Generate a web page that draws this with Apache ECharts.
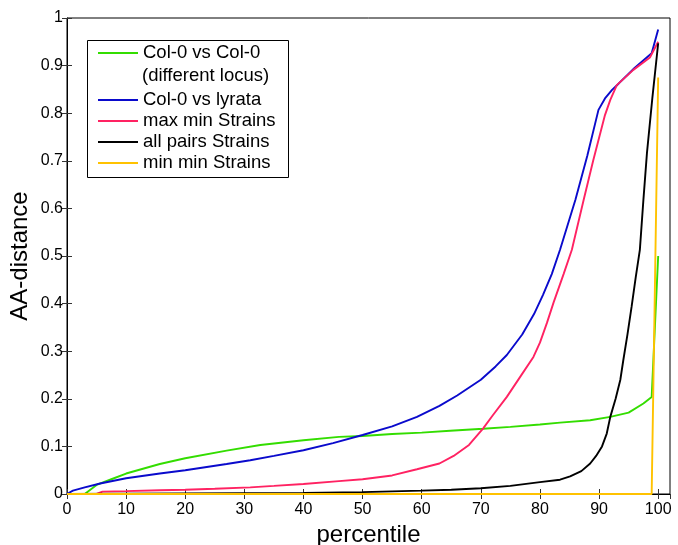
<!DOCTYPE html>
<html>
<head>
<meta charset="utf-8">
<script src="https://cdn.jsdelivr.net/npm/echarts@6/dist/echarts.min.js"></script>
<style>
  html, body { margin: 0; padding: 0; background: #fff; }
  #main { width: 678px; height: 545px; }
</style>
</head>
<body>
<div id="main"></div>
<script>
// percentile / AA-distance pairs
const colVsCol = [[0, 0], [3, 0], [5, 0.019], [7.5, 0.031], [10, 0.043], [15.7, 0.063], [20, 0.075], [27, 0.091],
    [32.7, 0.103], [40, 0.113], [46, 0.12], [50, 0.122], [55, 0.126], [60, 0.129], [64.8, 0.133], [70.4, 0.137],
    [75, 0.141], [80, 0.146], [83.4, 0.15], [88.5, 0.155], [91.9, 0.162], [95, 0.171], [97.5, 0.19], [98.9, 0.204], [100, 0.5]];
const colVsLyrata = [[0, 0], [1, 0.007], [3, 0.014], [5.6, 0.022], [10, 0.033], [15.7, 0.043], [20, 0.05], [27, 0.063],
    [31, 0.071], [35, 0.08], [40, 0.092], [45, 0.107], [50, 0.124], [55, 0.142], [59.2, 0.162], [63, 0.185], [66, 0.207],
    [70, 0.24], [72.5, 0.268], [74.4, 0.292], [77, 0.335], [79, 0.378], [80.5, 0.418], [82, 0.462], [83.4, 0.513],
    [86, 0.618], [88, 0.71], [89.9, 0.807], [91, 0.831], [92.2, 0.849], [93.3, 0.862], [96, 0.895], [98.9, 0.926], [100, 0.976]];
const maxMin = [[0, 0], [5, 0], [6, 0.005], [10, 0.006], [15.7, 0.008], [20, 0.009], [25, 0.011], [31, 0.014],
    [35, 0.017], [40, 0.021], [46, 0.027], [50, 0.031], [55, 0.039], [59.2, 0.052], [63, 0.064], [65.4, 0.08],
    [68, 0.103], [70.4, 0.138], [72, 0.165], [74.4, 0.204], [76.6, 0.245], [78.9, 0.288], [80, 0.318], [81.2, 0.36],
    [82.3, 0.402], [84, 0.462], [85.4, 0.513], [87.4, 0.618], [89, 0.7], [91, 0.796], [91.9, 0.828], [93, 0.859],
    [95.8, 0.891], [98.6, 0.917], [100, 0.95]];
const allPairs = [[0, 0], [20, 0.001], [40, 0.002], [50, 0.004], [60, 0.007], [65, 0.009], [70, 0.012], [75, 0.017],
    [80, 0.025], [83.4, 0.03], [85.1, 0.037], [87, 0.048], [88.5, 0.064], [89.5, 0.08], [90.5, 0.1], [91.3, 0.127],
    [91.9, 0.162], [92.8, 0.2], [93.6, 0.24], [94.1, 0.281], [94.8, 0.335], [95.5, 0.393], [96.2, 0.455], [96.9, 0.513],
    [97.5, 0.618], [98.1, 0.716], [99, 0.83], [100, 0.947]];
const minMin = [[0, 0], [98.9, 0], [100, 0.875]];

const seriesNames = ['Col-0 vs Col-0', 'Col-0 vs lyrata', 'max min Strains', 'all pairs Strains', 'min min Strains'];
const seriesColors = ['#33dd00', '#0a0acc', '#ff2262', '#000000', '#ffc200'];
const seriesData = [colVsCol, colVsLyrata, maxMin, allPairs, minMin];

const font = 'Liberation Sans, Arial, Helvetica, sans-serif';
const myChart = echarts.init(document.getElementById('main'));

const tickStyle = { show: true, inside: true, length: 5, lineStyle: { color: '#333', width: 1 } };
const hiddenLabel = { show: false };

function legendAt(top, names) {
    return {
        orient: 'vertical',
        left: 97,
        top: top,
        padding: 0,
        itemWidth: 40,
        itemHeight: 12,
        itemGap: 0,
        selectedMode: false,
        itemStyle: { color: 'rgba(0,0,0,0)', borderWidth: 0 },
        textStyle: { fontFamily: font, fontSize: 18.5, color: '#000', lineHeight: 21 },
        data: names
    };
}

const options = {
    animation: false,
    grid: {
        left: 67, top: 18, right: 8, bottom: 51,
        outerBoundsMode: 'none',
        containLabel: false,
        show: true, borderColor: '#000', borderWidth: 1
    },
    legend: [
        legendAt(42.5, [seriesNames[0]]),
        legendAt(89.5, seriesNames.slice(1))
    ],
    graphic: [{
        type: 'rect',
        shape: { x: 87.5, y: 40.5, width: 201, height: 137 },
        style: { fill: 'none', stroke: '#000', lineWidth: 1 },
        z: 100
    }, {
        type: 'text',
        left: 142,
        top: 66.5,
        style: { text: '(different locus)', font: '18.5px ' + font, fill: '#000' }
    }],
    xAxis: [{
        type: 'value',
        min: 0, max: 102, interval: 10,
        name: 'percentile',
        nameLocation: 'middle',
        nameGap: 27,
        nameTextStyle: { fontFamily: font, fontSize: 24, color: '#000' },
        axisLine: { show: true, onZero: false, lineStyle: { color: '#000' } },
        axisTick: tickStyle,
        splitLine: { show: false },
        axisLabel: {
            fontFamily: font, fontSize: 16, color: '#000', margin: 8,
            showMaxLabel: false,
            formatter: function (v) { return v % 10 === 0 ? String(v) : ''; }
        }
    }, {
        type: 'value', position: 'top',
        min: 0, max: 102, interval: 10,
        axisLine: { show: false },
        axisTick: tickStyle,
        axisLabel: hiddenLabel,
        splitLine: { show: false }
    }],
    yAxis: [{
        type: 'value',
        min: 0, max: 1, interval: 0.1,
        name: 'AA-distance',
        nameLocation: 'middle',
        nameGap: 35,
        nameMoveOverlap: false,
        nameTextStyle: { fontFamily: font, fontSize: 24, color: '#000' },
        axisLine: { show: true, onZero: false, lineStyle: { color: '#000' } },
        axisTick: tickStyle,
        splitLine: { show: false },
        axisLabel: { fontFamily: font, fontSize: 16, color: '#000', margin: 4 }
    }, {
        type: 'value', position: 'right',
        min: 0, max: 1, interval: 0.1,
        axisLine: { show: false },
        axisTick: tickStyle,
        axisLabel: hiddenLabel,
        splitLine: { show: false }
    }],
    series: seriesNames.map(function (name, i) {
        return {
            name: name,
            type: 'line',
            data: seriesData[i],
            symbol: 'none',
            color: seriesColors[i],
            lineStyle: { width: 1.9, color: seriesColors[i] },
            z: 2 + i
        };
    })
};
myChart.setOption(options);
</script>
</body>
</html>
